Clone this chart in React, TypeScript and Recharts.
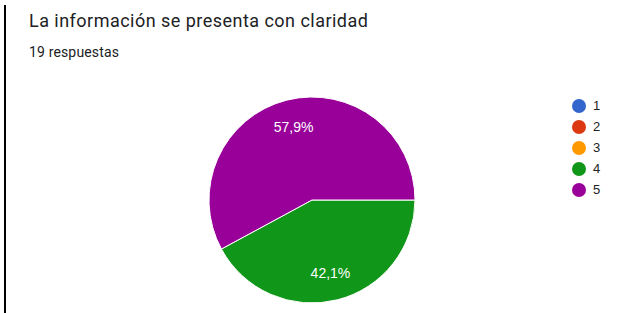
import React from 'react';
import { PieChart, Pie, Cell } from 'recharts';

const title = 'La información se presenta con claridad';
const subtitle = '19 respuestas';
const categories = ['1', '2', '3', '4', '5'];
const counts = [0, 0, 0, 8, 11];
const colors = ['#3366cc', '#dc3912', '#ff9900', '#109618', '#990099'];

const data = categories.map((c, i) => ({ name: c, value: counts[i] }));
const total = counts.reduce((a, b) => a + b, 0);

const RAD = Math.PI / 180;

const renderLabel = (props: any) => {
  const { cx, cy, midAngle, outerRadius, value } = props;
  if (!value) return null;
  const r = outerRadius * 0.73;
  const x = cx + r * Math.cos(-midAngle * RAD);
  const y = cy + r * Math.sin(-midAngle * RAD);
  const pct = ((value / total) * 100).toFixed(1).replace('.', ',') + '%';
  return (
    <text x={x} y={y} fill="#ffffff" textAnchor="middle" dominantBaseline="central"
      style={{ fontFamily: 'Arial, "Liberation Sans", sans-serif', fontSize: 14 }}>
      {pct}
    </text>
  );
};

export default function App() {
  return (
    <div style={{ position: 'absolute', left: 0, top: 0, width: 637, height: 313, background: '#ffffff', overflow: 'hidden' }}>
      <div style={{ position: 'absolute', left: 4, top: 5, width: 2, height: 308, background: '#000' }} />
      <div style={{ position: 'absolute', left: 29, top: 11, fontFamily: 'Roboto, sans-serif', fontSize: 18, letterSpacing: 0.47, lineHeight: '20px', color: '#202124', whiteSpace: 'nowrap' }}>{title}</div>
      <div style={{ position: 'absolute', left: 29, top: 44, fontFamily: 'Roboto, sans-serif', fontSize: 14, letterSpacing: 0.15, lineHeight: '16px', color: '#202124', whiteSpace: 'nowrap' }}>{subtitle}</div>
      <PieChart width={637} height={313} margin={{ top: 0, right: 0, bottom: 0, left: 0 }} style={{ position: 'absolute', left: 0, top: 0 }}>
        <Pie data={data} dataKey="value" nameKey="name" cx={312} cy={200} outerRadius={103}
          startAngle={0} endAngle={-360} stroke="#ffffff" strokeWidth={1}
          label={renderLabel} labelLine={false} isAnimationActive={false}>
          {data.map((d, i) => (
            <Cell key={d.name} fill={colors[i]} />
          ))}
        </Pie>
      </PieChart>
      <div style={{ position: 'absolute', left: 572, top: 95, fontFamily: 'Arial, "Liberation Sans", sans-serif', fontSize: 13, color: '#222' }}>
        {categories.map((c, i) => (
          <div key={c} style={{ display: 'flex', alignItems: 'center', height: 21 }}>
            <span style={{ display: 'inline-block', width: 14, height: 14, borderRadius: 7, background: colors[i], marginRight: 7 }} />
            <span>{c}</span>
          </div>
        ))}
      </div>
    </div>
  );
}
